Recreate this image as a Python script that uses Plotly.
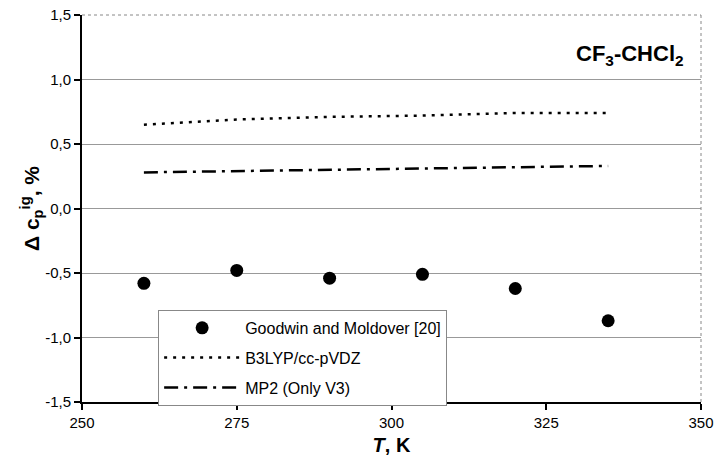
import plotly.graph_objects as go

T_exp = [260, 275, 290, 305, 320, 335]
dcp_exp = [-0.58, -0.48, -0.54, -0.51, -0.62, -0.87]

T_calc = [260, 275, 290, 305, 320, 335]
dcp_b3lyp = [0.65, 0.69, 0.71, 0.72, 0.74, 0.74]
dcp_mp2 = [0.28, 0.29, 0.30, 0.31, 0.32, 0.33]

x_ticks = [250, 275, 300, 325, 350]
y_ticks = [-1.5, -1.0, -0.5, 0.0, 0.5, 1.0, 1.5]
y_labels = ["-1,5", "-1,0", "-0,5", "0,0", "0,5", "1,0", "1,5"]

fig = go.Figure()
fig.add_trace(go.Scatter(x=T_exp, y=dcp_exp, mode="markers", name="Goodwin and Moldover [20]",
                         legendgroup="a", marker=dict(color="black", size=13)))
fig.add_trace(go.Scatter(x=T_calc, y=dcp_b3lyp, mode="lines", name="B3LYP/cc-pVDZ",
                         legendgroup="b", line=dict(color="black", width=2.5, dash="3px,6px")))
fig.add_trace(go.Scatter(x=T_calc, y=dcp_mp2, mode="lines", name="MP2 (Only V3)",
                         legendgroup="c", line=dict(color="black", width=2.5, dash="14px,6px,3px,6px")))

fig.update_layout(
    width=717, height=470,
    margin=dict(l=82, r=16, t=15, b=68, autoexpand=False),
    paper_bgcolor="white", plot_bgcolor="white",
    separators=",.",
    font=dict(family="Arial, Liberation Sans, sans-serif", color="black", size=15),
    showlegend=True,
    legend=dict(x=0.123, y=0.238, xanchor="left", yanchor="top",
                bgcolor="white", bordercolor="#888888", borderwidth=1,
                font=dict(size=16), tracegroupgap=6, itemwidth=76),
    xaxis=dict(range=[250, 350], tickvals=x_ticks, showgrid=False, automargin=False,
               showline=True, linecolor="black", linewidth=2,
               ticks="outside", ticklen=6, tickwidth=2, tickcolor="black",
               zeroline=False,
               title=dict(text="<b><i>T</i>, K</b>", font=dict(size=20), standoff=8)),
    yaxis=dict(range=[-1.5, 1.5], tickvals=y_ticks, ticktext=y_labels, automargin=False,
               showgrid=True, gridcolor="#999999", gridwidth=1,
               showline=True, linecolor="black", linewidth=2,
               ticks="outside", ticklen=6, tickwidth=2, tickcolor="black",
               zeroline=False,
               title=dict(text="<b>Δ c<sub>p</sub><sup>ig</sup>, %</b>", font=dict(size=21), standoff=0)),
    shapes=[
        dict(type="line", xref="paper", yref="paper", x0=1, x1=1, y0=0, y1=1,
             line=dict(color="#888888", width=1, dash="dot")),
        dict(type="line", xref="paper", yref="paper", x0=0, x1=1, y0=1, y1=1,
             line=dict(color="#888888", width=1, dash="dot")),
    ],
    annotations=[
        dict(text="<b>CF<sub>3</sub>-CHCl<sub>2</sub></b>", x=0.975, y=0.897,
             xref="paper", yref="paper", xanchor="right", yanchor="middle",
             showarrow=False, font=dict(size=22)),
    ],
)

fig.write_html("out.html", config={"displayModeBar": False},
               post_script="document.body.style.margin='0';document.body.style.overflow='hidden';")
